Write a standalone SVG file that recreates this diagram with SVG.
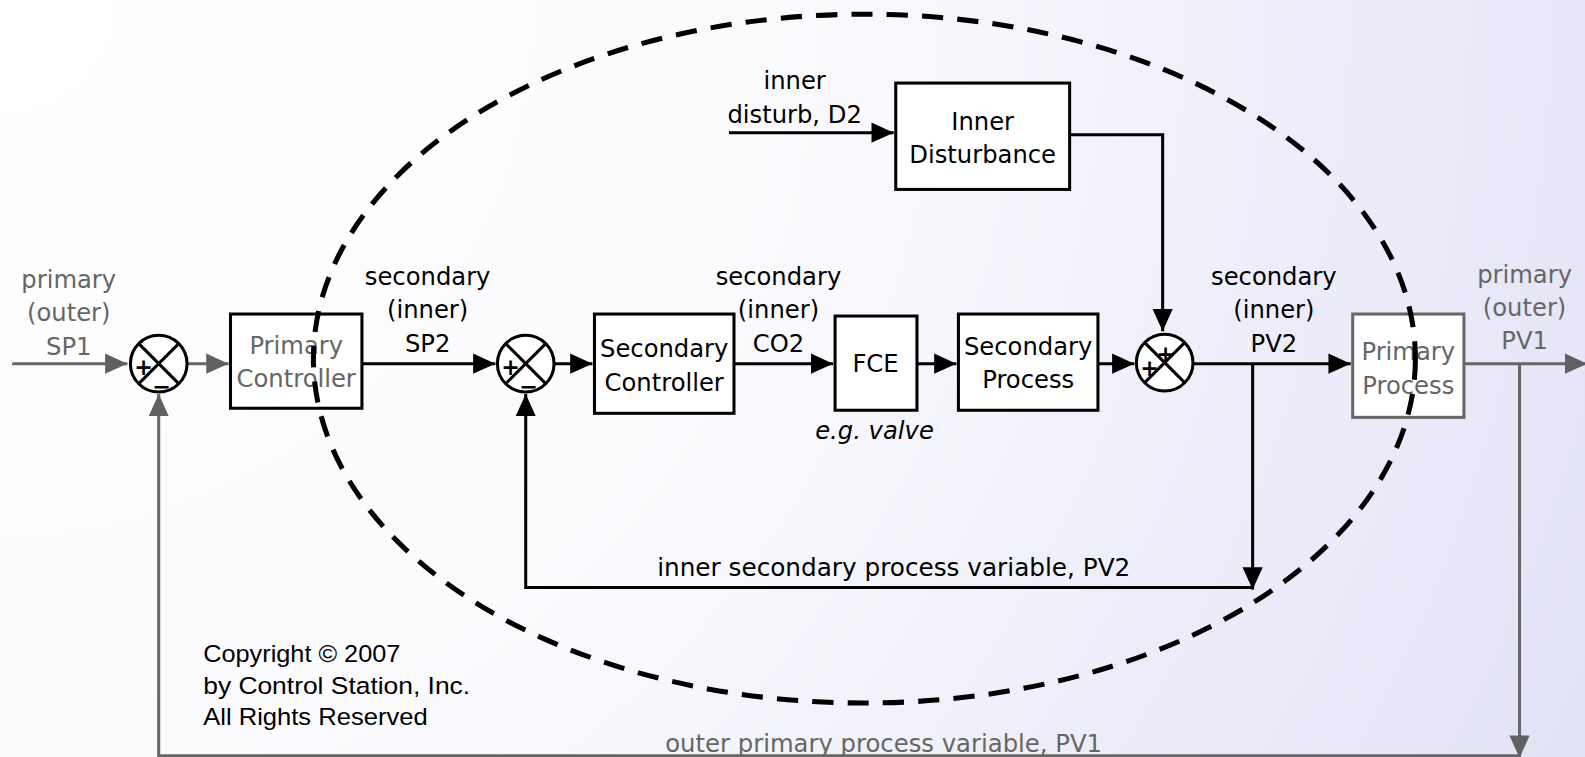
<svg xmlns="http://www.w3.org/2000/svg" width="1585" height="757" viewBox="0 0 1585 757">
<defs>
<radialGradient id="bg" cx="0" cy="0" r="1750" gradientUnits="userSpaceOnUse">
<stop offset="0" stop-color="#ffffff"/>
<stop offset="0.45" stop-color="#fbfbfe"/>
<stop offset="1" stop-color="#e2e2f6"/>
</radialGradient>
<marker id="ab" markerUnits="userSpaceOnUse" markerWidth="24" markerHeight="24" viewBox="0 0 24 24" refX="22" refY="12" orient="auto">
<path d="M0,2 L22,12 L0,22 Z" fill="#000"/>
</marker>
<marker id="ag" markerUnits="userSpaceOnUse" markerWidth="24" markerHeight="24" viewBox="0 0 24 24" refX="22" refY="12" orient="auto">
<path d="M0,2 L22,12 L0,22 Z" fill="#606060"/>
</marker>
</defs>
<style>
.bx{fill:#fff;stroke:#000;stroke-width:3}
.bxg{fill:#fff;stroke:#666;stroke-width:3}
.t{font-family:"DejaVu Sans","Liberation Sans",sans-serif;font-size:24px;fill:#000;text-anchor:middle}
.s{text-anchor:start}
.g{fill:#666}
.ln{fill:none;stroke:#000;stroke-width:3}
.lg{fill:none;stroke:#666;stroke-width:3}
.sum{fill:#fff;stroke:#000;stroke-width:3}
.sg{font-family:"DejaVu Sans","Liberation Sans",sans-serif;font-weight:bold;font-size:22px;fill:#000;text-anchor:middle}
.cp{font-family:"Liberation Sans",Arial,sans-serif;font-size:24px;fill:#000}
</style>
<rect width="1585" height="757" fill="url(#bg)"/>
<g transform="scale(1.011,1.013)">
<g id="connectors">
<path class="lg" d="M12,359 L126,359" marker-end="url(#ag)"/>
<path class="lg" d="M186,359 L226,359" marker-end="url(#ag)"/>
<path class="ln" d="M358,359 L490,359" marker-end="url(#ab)"/>
<path class="ln" d="M548,359 L586,359" marker-end="url(#ab)"/>
<path class="ln" d="M726,359 L824,359" marker-end="url(#ab)"/>
<path class="ln" d="M907,359 L946,359" marker-end="url(#ab)"/>
<path class="ln" d="M1086,359 L1122,359" marker-end="url(#ab)"/>
<path class="ln" d="M1180,359 L1336,359" marker-end="url(#ab)"/>
<path class="lg" d="M1448,359 L1570,359" marker-end="url(#ag)"/>
<path class="ln" d="M1239,359 L1239,582" marker-end="url(#ab)"/>
<path class="ln" d="M1239,580 L520,580 L520,389" marker-end="url(#ab)"/>
<path class="lg" d="M1503,359 L1503,748" marker-end="url(#ag)"/>
<path class="lg" d="M1503,746 L157,746 L157,389" marker-end="url(#ag)"/>
<path class="ln" d="M721,131 L884,131" marker-end="url(#ab)"/>
<path class="ln" d="M1058,133 L1150,133 L1150,327" marker-end="url(#ab)"/>
</g>

<g id="sum1">
<circle class="sum" cx="157" cy="359" r="28"/>
<path class="ln" d="M137,339 L177,379 M177,339 L137,379"/>
<text class="sg" x="142" y="370">+</text>
<text class="sg" x="160" y="389" font-size="28">−</text>
</g>
<g id="primary-controller">
<rect class="bx" x="228" y="310" width="130" height="93"/>
<text class="t g" x="293" y="349">Primary</text>
<text class="t g" x="293" y="382">Controller</text>
</g>
<g id="sum2">
<circle class="sum" cx="520" cy="359" r="28"/>
<path class="ln" d="M500,339 L540,379 M540,339 L500,379"/>
<text class="sg" x="505" y="370">+</text>
<text class="sg" x="523" y="389" font-size="28">−</text>
</g>
<g id="secondary-controller">
<rect class="bx" x="588" y="310" width="138" height="98"/>
<text class="t" x="657" y="352">Secondary</text>
<text class="t" x="657" y="386">Controller</text>
</g>
<g id="fce">
<rect class="bx" x="826" y="312" width="81" height="93"/>
<text class="t" x="866" y="367">FCE</text>
<text class="t" x="865" y="433" font-style="italic">e.g. valve</text>
</g>
<g id="secondary-process">
<rect class="bx" x="948" y="310" width="138" height="95"/>
<text class="t" x="1017" y="350">Secondary</text>
<text class="t" x="1017" y="383">Process</text>
</g>
<g id="sum3">
<circle class="sum" cx="1152" cy="358" r="28"/>
<path class="ln" d="M1132,338 L1172,378 M1172,338 L1132,378"/>
<text class="sg" x="1153" y="357">+</text>
<text class="sg" x="1137" y="371">+</text>
</g>
<g id="primary-process">
<rect class="bxg" x="1338" y="310" width="110" height="102"/>
<text class="t g" x="1393" y="355">Primary</text>
<text class="t g" x="1393" y="389">Process</text>
</g>
<g id="inner-disturbance">
<rect class="bx" x="886" y="82" width="172" height="105"/>
<text class="t" x="972" y="128">Inner</text>
<text class="t" x="972" y="161">Disturbance</text>
</g>

<g id="labels">
<text class="t g" x="68" y="284">primary</text>
<text class="t g" x="68" y="317">(outer)</text>
<text class="t g" x="68" y="350">SP1</text>
<text class="t" x="423" y="281">secondary</text>
<text class="t" x="423" y="314">(inner)</text>
<text class="t" x="423" y="347">SP2</text>
<text class="t" x="770" y="281">secondary</text>
<text class="t" x="770" y="314">(inner)</text>
<text class="t" x="770" y="347">CO2</text>
<text class="t" x="1260" y="281">secondary</text>
<text class="t" x="1260" y="314">(inner)</text>
<text class="t" x="1260" y="347">PV2</text>
<text class="t g" x="1508" y="279">primary</text>
<text class="t g" x="1508" y="312">(outer)</text>
<text class="t g" x="1508" y="345">PV1</text>
<text class="t" x="786" y="88">inner</text>
<text class="t" x="786" y="121">disturb, D2</text>
<text class="t s" x="650" y="569" textLength="468" lengthAdjust="spacingAndGlyphs">inner secondary process variable, PV2</text>
<text class="t s g" x="658" y="742" textLength="432" lengthAdjust="spacingAndGlyphs">outer primary process variable, PV1</text>
<text class="cp" x="201" y="654" textLength="195" lengthAdjust="spacingAndGlyphs">Copyright © 2007</text>
<text class="cp" x="201" y="685" textLength="264" lengthAdjust="spacingAndGlyphs">by Control Station, Inc.</text>
<text class="cp" x="201" y="716" textLength="222" lengthAdjust="spacingAndGlyphs">All Rights Reserved</text>
</g>

<ellipse id="inner-loop" cx="855" cy="354" rx="545" ry="340" fill="none" stroke="#000" stroke-width="5" stroke-dasharray="21,14"/>
</g>
</svg>
